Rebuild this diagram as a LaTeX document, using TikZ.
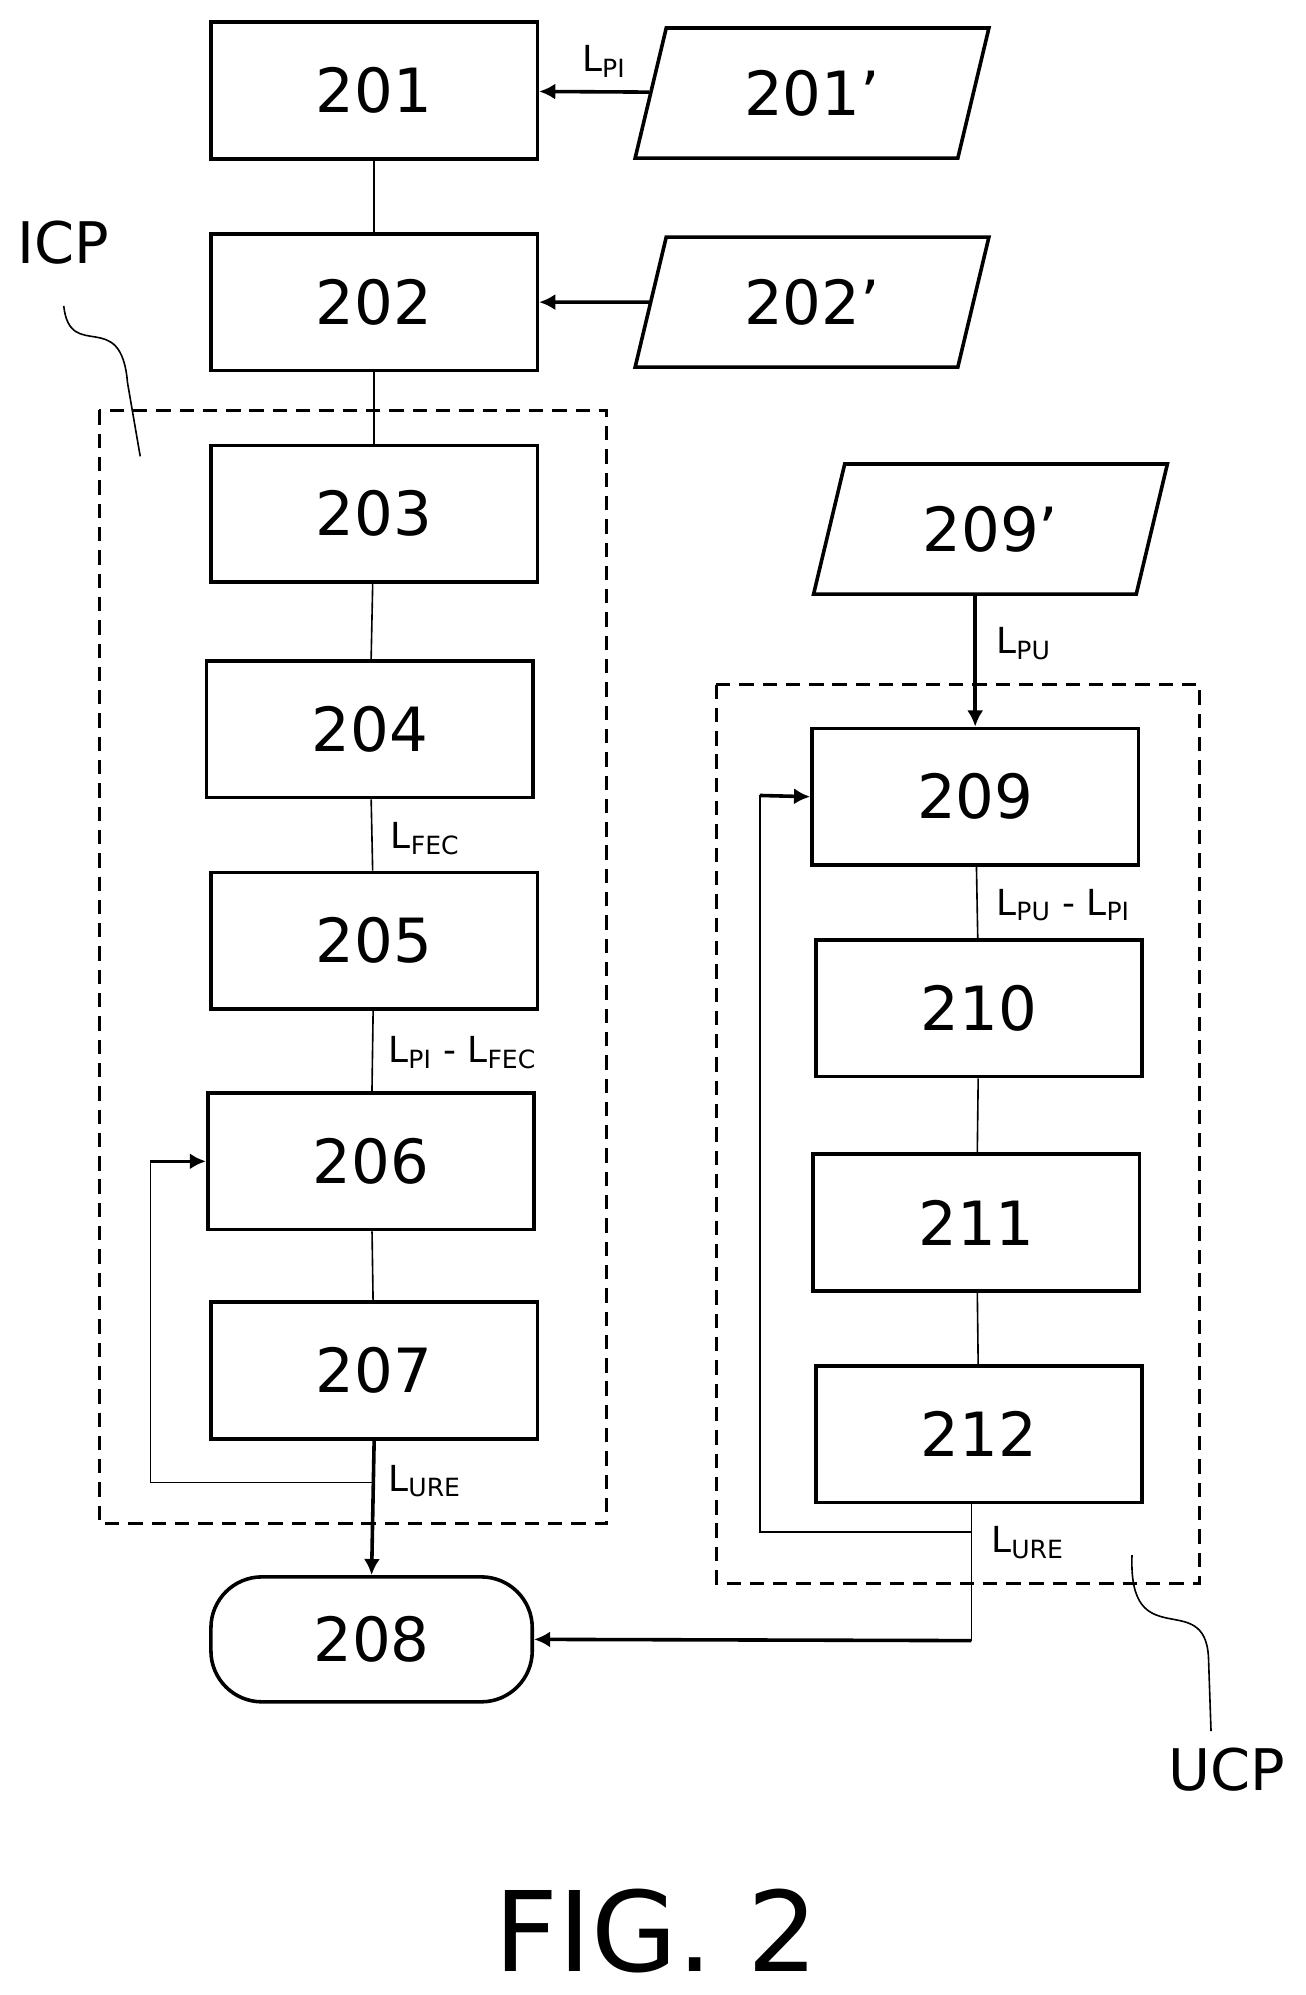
\documentclass[tikz,border=0pt]{standalone}
\usepackage{fontspec}
\setmainfont{DejaVu Sans}
\usetikzlibrary{shapes.geometric,arrows.meta}
\begin{document}
\begin{tikzpicture}[x=0.025cm,y=-0.025cm,
 box/.style={draw,line width=2pt,minimum width=6.4cm,minimum height=2.68cm,font=\fontsize{34}{40}\selectfont},
 para/.style={draw,line width=2pt,trapezium,trapezium left angle=76,trapezium right angle=104,minimum width=7cm,minimum height=2.55cm,inner xsep=0pt,font=\fontsize{34}{40}\selectfont,trapezium stretches=true},
 ln/.style={line width=0.9pt},
 arr/.style={line width=2pt,-{Latex[length=9pt,width=9pt]}},
 dsh/.style={draw,line width=1.6pt,dash pattern=on 8pt off 5pt},
 lab/.style={font=\fontsize{20}{24}\selectfont,anchor=west,inner sep=1pt}]
\useasboundingbox (0,0) rectangle (1024,1565);
\node[box] (b201) at (293.5,71) {201};
\node[para] (p201) at (637,73) {201’};
\node[box] (b202) at (293.5,237) {202};
\node[para] (p202) at (637,237) {202’};
\node[box] (b203) at (293.5,403) {203};
\node[box] (b204) at (290,572) {204};
\node[box] (b205) at (293.5,738) {205};
\node[box] (b206) at (291,911) {206};
\node[box] (b207) at (293.5,1075) {207};
\node[draw,line width=2pt,rounded corners=1cm,minimum width=6.3cm,minimum height=2.45cm,font=\fontsize{34}{40}\selectfont] (b208) at (291.5,1286) {208};
\node[para] (p209) at (777,415) {209’};
\node[box] (b209) at (765,625) {209};
\node[box] (b210) at (768,791) {210};
\node[box] (b211) at (766,959) {211};
\node[box] (b212) at (768,1125) {212};
\draw[dsh] (78,322) rectangle (476,1195);
\draw[dsh] (562,537) rectangle (941,1242);
% connectors
\draw[arr] (p201) -- (b201);
\draw[arr] (p202) -- (b202);
\draw[ln] (b201) -- (b202);
\draw[ln] (b202) -- (b203);
\draw[ln] (b203) -- (b204);
\draw[ln] (b204) -- (b205);
\draw[ln] (b205) -- (b206);
\draw[ln] (b206) -- (b207);
\draw[arr] (b207.south) -- (b208.north);
\coordinate (f1) at (118,1163);
\draw[ln] (293.5,1163) -- (f1) -- (118,911);
\draw[arr] (118,911) -- (b206.west);
\draw[arr] (p209.south -| b209.north) -- (b209.north);
\draw[ln] (b209) -- (b210);
\draw[ln] (b210) -- (b211);
\draw[ln] (b211) -- (b212);
\coordinate (f2) at (762,1287);
\draw[ln] (b212.south -| f2) -- (f2);
\draw[arr] (f2) -- (b208.east);
\draw[ln] (762,1202) -- (596,1202) -- (596,624);
\draw[arr] (596,624) -- (b209.west);
% labels
\node[lab] at (455,48) {L\textsubscript{PI}};
\node[lab] at (305,658) {L\textsubscript{FEC}};
\node[lab] at (303,826) {L\textsubscript{PI} - L\textsubscript{FEC}};
\node[lab] at (303,1162) {L\textsubscript{URE}};
\node[lab] at (780,505) {L\textsubscript{PU}};
\node[lab] at (780,710) {L\textsubscript{PU} - L\textsubscript{PI}};
\node[lab] at (776,1210) {L\textsubscript{URE}};
\node[font=\fontsize{32}{38}\selectfont] (icp) at (50,190) {ICP};
\draw[ln] (50,240) .. controls (55,285) and (95,240) .. (100,300) -- (110,358);
\node[font=\fontsize{32}{38}\selectfont] (ucp) at (962,1388) {UCP};
\draw[ln] (888,1220) .. controls (885,1300) and (945,1245) .. (948,1300) -- (950,1358);
\node[font=\fontsize{62}{70}\selectfont] at (515,1515) {FIG. 2};
\end{tikzpicture}
\end{document}
